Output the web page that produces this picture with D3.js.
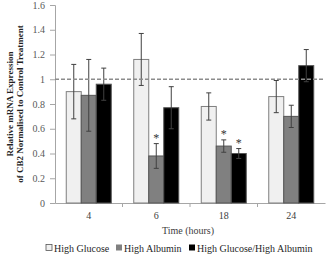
<!DOCTYPE html>
<html>
<head>
<meta charset="utf-8">
<script src="https://cdn.jsdelivr.net/npm/d3@7"></script>
<style>
  body { margin: 0; background: #fff; }
  svg { display: block; font-family: "Liberation Serif", "DejaVu Serif", serif; }
</style>
</head>
<body>
<svg id="chart" width="326" height="256"></svg>
<script>
const times = ["4", "6", "18", "24"];
const seriesNames = ["High Glucose", "High Albumin", "High Glucose/High Albumin"];
const highGlucose = [0.90, 1.16, 0.78, 0.86];
const highGlucoseErr = [0.22, 0.21, 0.11, 0.13];
const highAlbumin = [0.87, 0.38, 0.46, 0.70];
const highAlbuminErr = [0.29, 0.10, 0.05, 0.09];
const highBoth = [0.96, 0.77, 0.40, 1.11];
const highBothErr = [0.13, 0.17, 0.04, 0.13];
const significant = [[false, false, false], [false, true, false], [false, true, true], [false, false, false]];
const yTicks = [0, 0.2, 0.4, 0.6, 0.8, 1, 1.2, 1.4, 1.6];
const controlLevel = 1;

const fills = ["#f0f0f0", "#808080", "#000000"];

const svg = d3.select("#chart");
const margin = { left: 55, right: 1, top: 5, bottom: 53 };
const width = 326, height = 256;

const x = d3.scaleBand().domain(times).range([margin.left, width - margin.right]);
const inner = d3.scaleBand().domain(d3.range(3)).range([-22.5, 22.5]).padding(0);
const y = d3.scaleLinear().domain([0, 1.6]).range([height - margin.bottom, margin.top]);

// build rows from the arrays
const rows = times.map((t, i) => ({
  time: t,
  bars: [
    { s: 0, v: highGlucose[i], e: highGlucoseErr[i] },
    { s: 1, v: highAlbumin[i], e: highAlbuminErr[i] },
    { s: 2, v: highBoth[i], e: highBothErr[i] }
  ].map((b, k) => ({ ...b, star: significant[i][k] }))
}));

// y axis
const yAxis = svg.append("g")
  .attr("transform", `translate(${margin.left},0)`)
  .call(d3.axisLeft(y).tickValues(yTicks).tickSize(5).tickPadding(5).tickFormat(d3.format("~g")));
yAxis.select(".domain").attr("stroke", "#a6a6a6");
yAxis.selectAll(".tick line").attr("stroke", "#a6a6a6");
yAxis.selectAll(".tick text").attr("fill", "#595959").attr("font-size", 10)
  .attr("font-family", "'Liberation Serif', serif");

// x axis
const xAxis = svg.append("g")
  .attr("transform", `translate(0,${y(0)})`)
  .call(d3.axisBottom(x).tickSize(0).tickPadding(9));
xAxis.select(".domain").attr("stroke", "#a6a6a6");
xAxis.selectAll(".tick text").attr("fill", "#404040").attr("font-size", 10)
  .attr("font-family", "'Liberation Serif', serif");
xAxis.selectAll(".sep")
  .data(times.slice(1))
  .enter().append("line")
  .attr("x1", d => x(d)).attr("x2", d => x(d))
  .attr("y1", 0).attr("y2", 4)
  .attr("stroke", "#a6a6a6");

// bars
const groups = svg.append("g").selectAll("g")
  .data(rows).enter().append("g")
  .attr("transform", d => `translate(${x(d.time) + x.bandwidth() / 2},0)`);

groups.selectAll("rect")
  .data(d => d.bars).enter().append("rect")
  .attr("x", d => inner(d.s))
  .attr("width", inner.bandwidth())
  .attr("y", d => y(d.v))
  .attr("height", d => y(0) - y(d.v))
  .attr("fill", d => fills[d.s])
  .attr("stroke", d => d.s === 0 ? "#7f7f7f" : "#555")
  .attr("stroke-width", 1);

// control line
svg.append("line")
  .attr("x1", margin.left).attr("x2", width - margin.right)
  .attr("y1", y(controlLevel)).attr("y2", y(controlLevel))
  .attr("stroke", "#8c8c8c").attr("stroke-width", 1.5)
  .attr("stroke-dasharray", "4,2");

// error bars
const errs = groups.selectAll("g.err")
  .data(d => d.bars).enter().append("g")
  .attr("class", "err")
  .attr("transform", d => `translate(${inner(d.s) + inner.bandwidth() / 2},0)`);
errs.append("line")
  .attr("y1", d => y(d.v - d.e)).attr("y2", d => y(d.v + d.e))
  .attr("stroke", "#404040").attr("stroke-width", 1);
errs.selectAll("line.cap")
  .data(d => [d.v - d.e, d.v + d.e]).enter().append("line")
  .attr("x1", -2.5).attr("x2", 2.5)
  .attr("y1", d => y(d)).attr("y2", d => y(d))
  .attr("stroke", "#404040").attr("stroke-width", 1);

// significance markers
errs.filter(d => d.star).append("text")
  .attr("y", d => y(d.v + d.e) - 2)
  .attr("text-anchor", "middle")
  .attr("font-size", 12)
  .attr("fill", "#333")
  .text("*");

// y label
const yl = svg.append("text")
  .attr("transform", `translate(13,${(y(0) + y(1.6)) / 2}) rotate(-90)`)
  .attr("text-anchor", "middle")
  .attr("font-size", 9)
  .attr("font-weight", "bold")
  .attr("fill", "#222");
yl.append("tspan").attr("x", 0).attr("dy", 0).text("Relative mRNA Expression");
yl.append("tspan").attr("x", 0).attr("dy", 10).text("of CB2 Normalised to Control Treatment");

// x label
svg.append("text")
  .attr("x", 188)
  .attr("y", 234)
  .attr("text-anchor", "middle")
  .attr("font-size", 10)
  .attr("fill", "#404040")
  .text("Time (hours)");

// legend
const legendX = [46, 116, 189];
const legend = svg.append("g").selectAll("g")
  .data(seriesNames).enter().append("g")
  .attr("transform", (d, i) => `translate(${legendX[i]},248)`);
legend.append("rect")
  .attr("x", 0).attr("y", -3.5).attr("width", 6).attr("height", 6)
  .attr("fill", (d, i) => fills[i])
  .attr("stroke", (d, i) => i === 0 ? "#555" : "none")
  .attr("stroke-width", 0.8);
legend.append("text")
  .attr("x", 8).attr("y", 3.5)
  .attr("font-size", 10)
  .attr("fill", "#262626")
  .text(d => d);
</script>
</body>
</html>
